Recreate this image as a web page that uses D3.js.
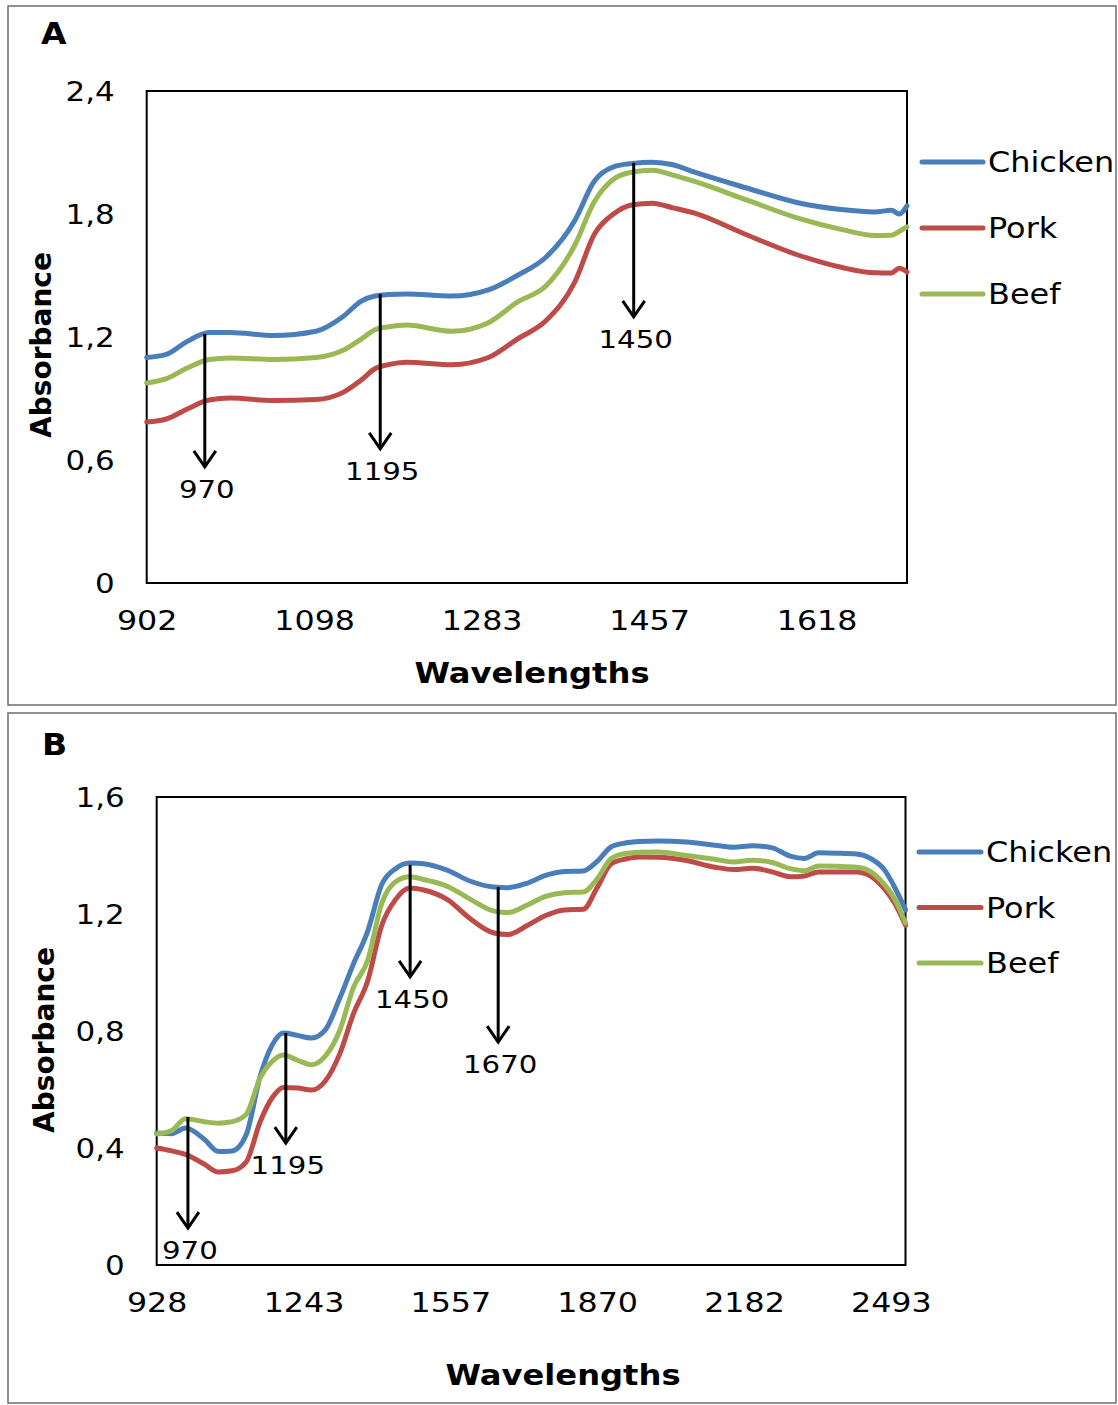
<!DOCTYPE html>
<html>
<head>
<meta charset="utf-8">
<script src="https://cdn.jsdelivr.net/npm/d3@7"></script>
<style>
  html, body { margin: 0; padding: 0; background: #fff; }
  svg { display: block; }
  text { font-family: "DejaVu Sans", Verdana, sans-serif; fill: #000; }
</style>
</head>
<body>
<svg id="chart" width="1118" height="1405"></svg>
<script>
// ---------- Panel A data ----------
const seriesNames = ["Chicken", "Pork", "Beef"];

const waveA = [902, 925, 950, 975, 1000, 1050, 1100, 1130, 1150, 1165, 1180, 1200, 1250, 1290, 1320,
  1350, 1380, 1400, 1420, 1440, 1460, 1480, 1500, 1550, 1600, 1640, 1670, 1685, 1692, 1699];
const chickenA = [1.10, 1.115, 1.18, 1.222, 1.222, 1.207, 1.228, 1.30, 1.375, 1.40, 1.407, 1.41, 1.40, 1.43, 1.50,
  1.59, 1.77, 1.96, 2.03, 2.047, 2.053, 2.04, 2.005, 1.928, 1.855, 1.822, 1.81, 1.818, 1.80, 1.84];
const porkA = [0.785, 0.80, 0.85, 0.893, 0.902, 0.89, 0.895, 0.93, 0.99, 1.045, 1.065, 1.077, 1.065, 1.10, 1.19,
  1.28, 1.47, 1.70, 1.80, 1.845, 1.853, 1.83, 1.805, 1.70, 1.60, 1.54, 1.513, 1.512, 1.535, 1.517];
const beefA = [0.976, 0.997, 1.05, 1.09, 1.098, 1.09, 1.10, 1.135, 1.19, 1.235, 1.25, 1.258, 1.228, 1.27, 1.37,
  1.45, 1.65, 1.86, 1.97, 2.005, 2.013, 1.99, 1.96, 1.87, 1.78, 1.725, 1.695, 1.696, 1.715, 1.737];
const xTicksA = [902, 1098, 1283, 1457, 1618];
const xEndA = 1699;
const yTicksA = [0, 0.6, 1.2, 1.8, 2.4];
const annotA = [
  { label: "970", at: 970, from: 1.215, to: 0.566 },
  { label: "1195", at: 1171, from: 1.41, to: 0.654 },
  { label: "1450", at: 1441, from: 2.049, to: 1.298 }
];

// ---------- Panel B data ----------
const waveB = [928, 960, 990, 1030, 1060, 1090, 1120, 1150, 1175, 1200, 1230, 1260, 1290, 1320, 1350, 1380,
  1410, 1440, 1470, 1500, 1550, 1600, 1650, 1680, 1720, 1760, 1800, 1840, 1870, 1900, 1930, 1960, 2000,
  2060, 2120, 2160, 2200, 2240, 2280, 2310, 2340, 2380, 2420, 2450, 2480, 2500, 2524];
const chickenB = [0.451, 0.449, 0.468, 0.43, 0.388, 0.39, 0.445, 0.645, 0.75, 0.793, 0.785, 0.776, 0.805, 0.91,
  1.03, 1.14, 1.30, 1.355, 1.374, 1.372, 1.35, 1.312, 1.292, 1.29, 1.305, 1.332, 1.345, 1.347, 1.38, 1.43,
  1.443, 1.448, 1.45, 1.446, 1.435, 1.428, 1.433, 1.427, 1.398, 1.39, 1.409, 1.408, 1.405, 1.39, 1.35, 1.295, 1.214];
const porkB = [0.40, 0.39, 0.378, 0.345, 0.318, 0.322, 0.352, 0.49, 0.57, 0.607, 0.605, 0.598, 0.63, 0.72,
  0.86, 0.97, 1.16, 1.25, 1.289, 1.282, 1.25, 1.183, 1.135, 1.13, 1.16, 1.195, 1.214, 1.216, 1.29, 1.372,
  1.388, 1.395, 1.394, 1.383, 1.36, 1.352, 1.356, 1.345, 1.327, 1.33, 1.344, 1.344, 1.344, 1.33, 1.285, 1.24, 1.162];
const beefB = [0.448, 0.46, 0.50, 0.49, 0.485, 0.49, 0.515, 0.64, 0.695, 0.718, 0.70, 0.685, 0.715, 0.80,
  0.95, 1.04, 1.235, 1.31, 1.327, 1.318, 1.295, 1.25, 1.21, 1.205, 1.23, 1.26, 1.273, 1.275, 1.32, 1.39,
  1.407, 1.411, 1.412, 1.40, 1.387, 1.378, 1.384, 1.377, 1.355, 1.348, 1.364, 1.363, 1.36, 1.345, 1.30, 1.255, 1.169];
const xTicksB = [928, 1243, 1557, 1870, 2182, 2493];
const xEndB = 2524;
const yTicksB = [0, 0.4, 0.8, 1.2, 1.6];
const annotB = [
  { label: "970", at: 995, from: 0.506, to: 0.126 },
  { label: "1195", at: 1205, from: 0.793, to: 0.417 },
  { label: "1450", at: 1471, from: 1.368, to: 0.985 },
  { label: "1670", at: 1659, from: 1.292, to: 0.762 }
];

// ---------- styling / layout ----------
const colors = { Chicken: "#4A7EBB", Pork: "#BE4B48", Beef: "#98B954" };
const fmt = v => v === 0 ? "0" : v.toFixed(1).replace(".", ",");
const SX = 1.17;   // horizontal stretch of the original figure's text

// put a text element at its (x,y) with a horizontal stretch
function stretch(sel, sx) {
  sel.each(function () {
    const t = d3.select(this);
    const x = +t.attr("x") || 0, y = +t.attr("y") || 0;
    t.attr("x", 0).attr("y", 0)
     .attr("transform", `translate(${x},${y}) scale(${sx},1)`);
  });
}

const panels = [
  {
    letter: "A", frame: [8, 6, 1108, 699],
    plot: { left: 146.7, top: 91, right: 907, bottom: 583 },
    span: 4.54, yMax: 2.4,
    wave: waveA, series: [chickenA, porkA, beefA],
    xTicks: xTicksA, xEnd: xEndA, yTicks: yTicksA, annot: annotA,
    legend: { x: 922, y: 162, dy: 66, len: 61 },
    xTitle: { x: 532, y: 683 }, yTitle: { x: 51, y: 345 }, letterPos: { x: 41, y: 44 }
  },
  {
    letter: "B", frame: [8, 713, 1108, 690],
    plot: { left: 156.7, top: 797, right: 905.5, bottom: 1265 },
    span: 5.1, yMax: 1.6,
    wave: waveB, series: [chickenB, porkB, beefB],
    xTicks: xTicksB, xEnd: xEndB, yTicks: yTicksB, annot: annotB,
    legend: { x: 919, y: 852, dy: 55.5, len: 62 },
    xTitle: { x: 563, y: 1385 }, yTitle: { x: 54, y: 1040 }, letterPos: { x: 42, y: 755 }
  }
];

const svg = d3.select("#chart");

panels.forEach(p => {
  // outer frame
  svg.append("rect")
    .attr("x", p.frame[0]).attr("y", p.frame[1])
    .attr("width", p.frame[2]).attr("height", p.frame[3])
    .attr("fill", "none").attr("stroke", "#6e6e6e").attr("stroke-width", 1.5);

  const W = p.plot.right - p.plot.left;
  const step = W / p.span;
  const rng = p.xTicks.map((d, i) => p.plot.left + i * step).concat([p.plot.right]);
  const x = d3.scaleLinear().domain(p.xTicks.concat([p.xEnd])).range(rng);
  const y = d3.scaleLinear().domain([0, p.yMax]).range([p.plot.bottom, p.plot.top]);

  // plot area border
  svg.append("rect")
    .attr("x", p.plot.left).attr("y", p.plot.top)
    .attr("width", W).attr("height", p.plot.bottom - p.plot.top)
    .attr("fill", "none").attr("stroke", "#000").attr("stroke-width", 2);

  // y axis
  const gy = svg.append("g")
    .attr("transform", `translate(${p.plot.left},0)`)
    .call(d3.axisLeft(y).tickValues(p.yTicks).tickFormat(fmt).tickSize(0).tickPadding(32));
  gy.select(".domain").remove();
  gy.selectAll("text").style("font-size", "26px").style("font-family", '"DejaVu Sans", Verdana, sans-serif')
    .attr("dy", "0.36em").call(stretch, 1.19);

  // x axis
  const gx = svg.append("g")
    .attr("transform", `translate(0,${p.plot.bottom})`)
    .call(d3.axisBottom(x).tickValues(p.xTicks).tickFormat(d => String(d)).tickSize(0).tickPadding(29));
  gx.select(".domain").remove();
  gx.selectAll("text").style("font-size", "26px").style("font-family", '"DejaVu Sans", Verdana, sans-serif')
    .attr("dy", "0.71em").call(stretch, 1.22);

  // lines
  const line = d3.line()
    .x((d, i) => x(p.wave[i]))
    .y(d => y(d))
    .curve(d3.curveMonotoneX);
  p.series.forEach((s, k) => {
    svg.append("path")
      .datum(s)
      .attr("d", line)
      .attr("fill", "none")
      .attr("stroke", colors[seriesNames[k]])
      .attr("stroke-width", 5)
      .attr("stroke-linejoin", "round")
      .attr("stroke-linecap", "round");
  });

  // arrows
  p.annot.forEach(a => {
    const ax = x(a.at), y0 = y(a.from), y1 = y(a.to);
    svg.append("line").attr("x1", ax).attr("x2", ax).attr("y1", y0).attr("y2", y1)
      .attr("stroke", "#000").attr("stroke-width", 3);
    svg.append("polyline")
      .attr("points", `${ax - 11},${y1 - 16} ${ax},${y1} ${ax + 11},${y1 - 16}`)
      .attr("fill", "none").attr("stroke", "#000").attr("stroke-width", 3);
    svg.append("text")
      .attr("x", ax + 2).attr("y", y1 + 31)
      .attr("text-anchor", "middle")
      .style("font-size", "25px")
      .text(a.label)
      .call(stretch, SX);
  });

  // legend
  seriesNames.forEach((n, k) => {
    const ly = p.legend.y + k * p.legend.dy;
    svg.append("line")
      .attr("x1", p.legend.x).attr("x2", p.legend.x + p.legend.len)
      .attr("y1", ly).attr("y2", ly)
      .attr("stroke", colors[n]).attr("stroke-width", 5).attr("stroke-linecap", "round");
    svg.append("text")
      .attr("x", p.legend.x + p.legend.len + 5).attr("y", ly).attr("dy", "0.36em")
      .style("font-size", "28px")
      .text(n)
      .call(stretch, 1.14);
  });

  // titles
  svg.append("text")
    .attr("x", p.xTitle.x).attr("y", p.xTitle.y)
    .attr("text-anchor", "middle")
    .style("font-size", "28px").style("font-weight", "bold")
    .text("Wavelengths")
    .call(stretch, 1.15);
  svg.append("text")
    .attr("transform", `translate(${p.yTitle.x},${p.yTitle.y}) rotate(-90)`)
    .attr("text-anchor", "middle")
    .style("font-size", "28px").style("font-weight", "bold")
    .text("Absorbance");
  svg.append("text")
    .attr("x", p.letterPos.x).attr("y", p.letterPos.y)
    .style("font-size", "30px").style("font-weight", "bold")
    .text(p.letter)
    .call(stretch, 1.1);
});
</script>
</body>
</html>
